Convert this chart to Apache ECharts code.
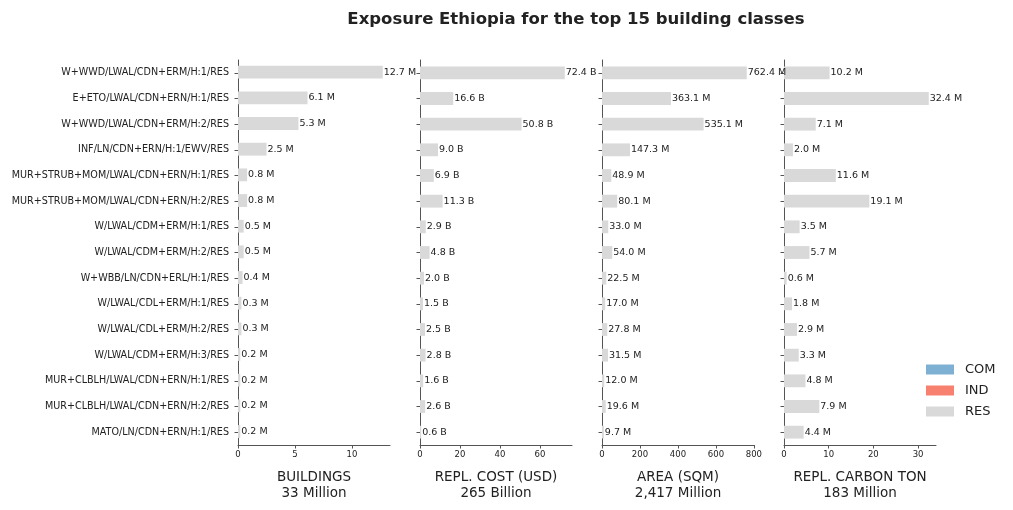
<!DOCTYPE html>
<html lang="en">
<head>
<meta charset="UTF-8">
<title>Exposure Ethiopia</title>
<script src="https://cdn.jsdelivr.net/npm/echarts@6/dist/echarts.min.js"></script>
<style>
  html, body { margin: 0; padding: 0; background: #fff; }
  #main { width: 1013px; height: 510px; }
</style>
</head>
<body>
<div id="main"></div>
<script>
// building classes, top to bottom
var classes = [
  'W+WWD/LWAL/CDN+ERM/H:1/RES',
  'E+ETO/LWAL/CDN+ERN/H:1/RES',
  'W+WWD/LWAL/CDN+ERM/H:2/RES',
  'INF/LN/CDN+ERN/H:1/EWV/RES',
  'MUR+STRUB+MOM/LWAL/CDN+ERN/H:1/RES',
  'MUR+STRUB+MOM/LWAL/CDN+ERN/H:2/RES',
  'W/LWAL/CDM+ERM/H:1/RES',
  'W/LWAL/CDM+ERM/H:2/RES',
  'W+WBB/LN/CDN+ERL/H:1/RES',
  'W/LWAL/CDL+ERM/H:1/RES',
  'W/LWAL/CDL+ERM/H:2/RES',
  'W/LWAL/CDM+ERM/H:3/RES',
  'MUR+CLBLH/LWAL/CDN+ERN/H:1/RES',
  'MUR+CLBLH/LWAL/CDN+ERN/H:2/RES',
  'MATO/LN/CDN+ERN/H:1/RES'
];

// millions of buildings
var buildings = [12.7, 6.1, 5.3, 2.5, 0.8, 0.8, 0.5, 0.5, 0.4, 0.3, 0.3, 0.2, 0.2, 0.2, 0.2];
// billions USD
var replCost = [72.4, 16.6, 50.8, 9.0, 6.9, 11.3, 2.9, 4.8, 2.0, 1.5, 2.5, 2.8, 1.6, 2.6, 0.6];
// millions sqm
var area = [762.4, 363.1, 535.1, 147.3, 48.9, 80.1, 33.0, 54.0, 22.5, 17.0, 27.8, 31.5, 12.0, 19.6, 9.7];
// millions ton
var carbon = [10.2, 32.4, 7.1, 2.0, 11.6, 19.1, 3.5, 5.7, 0.6, 1.8, 2.9, 3.3, 4.8, 7.9, 4.4];

var panelNames = ['BUILDINGS\n33 Million', 'REPL. COST (USD)\n265 Billion', 'AREA (SQM)\n2,417 Million', 'REPL. CARBON TON\n183 Million'];
var panelUnits = [' M', ' B', ' M', ' M'];
var panelTicks = [[0, 5, 10], [0, 20, 40, 60], [0, 200, 400, 600, 800], [0, 10, 20, 30]];
var panelData = [buildings, replCost, area, carbon];

var occColors = { COM: '#7eb0d4', IND: '#f7806f', RES: '#d9d9d9' };

var font = 'DejaVu Sans';
var axisColor = '#555';
var gridLefts = [238, 420, 602, 784];

var grids = [], xAxes = [], yAxes = [], series = [];
for (var i = 0; i < 4; i++) {
  var maxVal = Math.max.apply(null, panelData[i]) * 1.05;
  grids.push({ left: gridLefts[i], width: 152, top: 60, height: 385 });
  xAxes.push({
    gridIndex: i, type: 'value', min: 0, max: maxVal,
    name: panelNames[i], nameLocation: 'middle', nameGap: 24,
    nameTextStyle: { fontFamily: font, fontSize: 13.5, color: '#222', lineHeight: 16.5 },
    splitLine: { show: false },
    axisLine: { show: true, lineStyle: { color: axisColor, width: 1 } },
    axisTick: { show: true, length: 3.5, lineStyle: { color: axisColor }, customValues: panelTicks[i] },
    axisLabel: { fontFamily: font, fontSize: 8.5, color: '#222', margin: 5, customValues: panelTicks[i] }
  });
  yAxes.push({
    gridIndex: i, type: 'category', data: classes, inverse: true,
    axisLine: { show: true, lineStyle: { color: axisColor, width: 1 } },
    axisTick: { show: true, alignWithLabel: true, length: 3.5, lineStyle: { color: axisColor } },
    axisLabel: { show: i === 0, fontFamily: font, fontSize: 9.6, color: '#222', margin: 9 }
  });
  (function (unit) {
    series.push({
      name: 'RES', type: 'bar', xAxisIndex: i, yAxisIndex: i,
      data: panelData[i], barWidth: '50%',
      itemStyle: { color: occColors.RES },
      label: {
        show: true, position: 'right', distance: 1,
        fontFamily: font, fontSize: 9.5, color: '#222',
        formatter: function (p) { return p.value.toFixed(1) + unit; }
      },
      silent: true
    });
  })(panelUnits[i]);
}
// empty series, legend only
series.push({ name: 'COM', type: 'bar', xAxisIndex: 0, yAxisIndex: 0, data: [], itemStyle: { color: occColors.COM } });
series.push({ name: 'IND', type: 'bar', xAxisIndex: 0, yAxisIndex: 0, data: [], itemStyle: { color: occColors.IND } });

var chart = echarts.init(document.getElementById('main'), null, { renderer: 'canvas' });
chart.setOption({
  animation: false,
  backgroundColor: '#fff',
  title: {
    text: 'Exposure Ethiopia for the top 15 building classes',
    left: 571, top: 6, textAlign: 'center',
    textStyle: { fontFamily: font, fontSize: 16.5, fontWeight: 'bold', color: '#222' }
  },
  legend: {
    data: ['COM', 'IND', 'RES'], orient: 'vertical',
    left: 926, top: 363, padding: 0, itemWidth: 28, itemHeight: 10, itemGap: 8,
    icon: 'rect',
    textStyle: { fontFamily: font, fontSize: 13, color: '#222', padding: [0, 0, 0, 6] }
  },
  grid: grids,
  xAxis: xAxes,
  yAxis: yAxes,
  series: series
});
</script>
</body>
</html>
